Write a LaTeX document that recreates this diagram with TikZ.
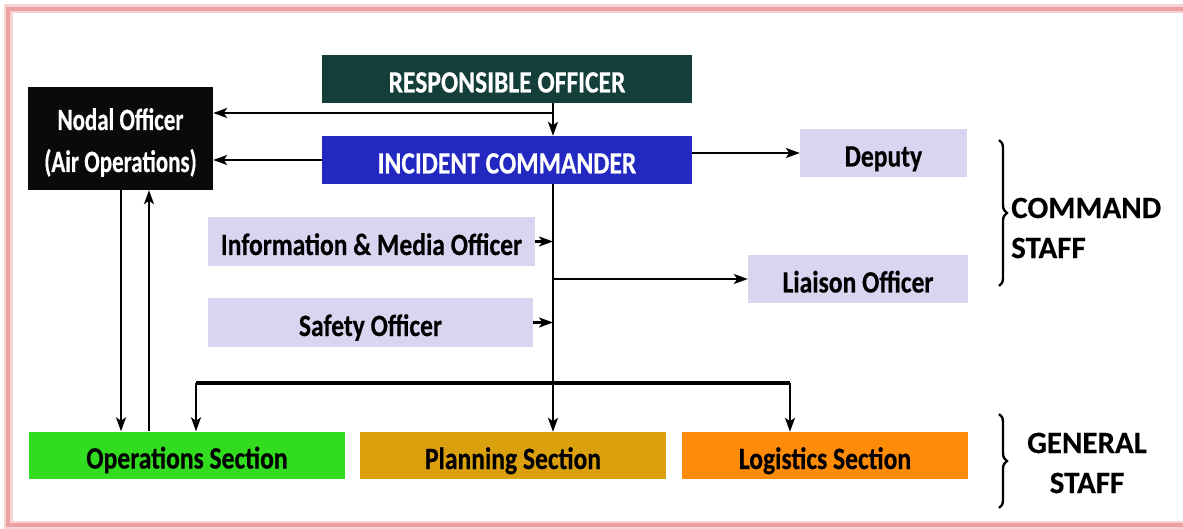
\documentclass[tikz,border=0pt]{standalone}
\usepackage{fontspec}
\usetikzlibrary{arrows.meta,decorations.pathreplacing}
\newfontfamily\boxfont[FakeStretch=0.825,FakeBold=0.4]{Carlito}
\newfontfamily\nodalfont[FakeStretch=0.74,FakeBold=0.4]{Carlito}
\newfontfamily\sidefont[FakeBold=0.3]{Carlito}
\definecolor{roc}{RGB}{20,62,58}
\definecolor{icc}{RGB}{34,40,192}
\definecolor{lav}{RGB}{217,213,240}
\definecolor{opc}{RGB}{50,220,30}
\definecolor{plc}{RGB}{218,160,14}
\definecolor{lgc}{RGB}{255,140,8}
\definecolor{frm}{RGB}{236,160,162}
\definecolor{nearblack}{RGB}{10,10,10}
\begin{document}
\begin{tikzpicture}[x=1pt,y=-1pt,
  box/.style={draw=none, inner sep=0pt, minimum height=48pt,
    text height=27pt, text depth=0pt,
    font={\boxfont\bfseries\fontsize{31}{36}\selectfont}},
  lavbox/.style={box, fill=lav, text=black},
  conn/.style={line width=2.2pt, -{Stealth[length=14pt,width=10pt,inset=3.5pt]}},
  sidetext/.style={inner sep=0pt, font={\sidefont\bfseries\fontsize{31}{40}\selectfont}},
  bracestyle/.style={decorate, decoration={brace, amplitude=8pt}, line width=2.4pt}
]
\useasboundingbox (0,0) rectangle (1183,529);
% frame
\draw[line width=9pt, draw=frm!45] (8,9) rectangle (1205,525);
\draw[line width=4.5pt, draw=frm] (8,9) rectangle (1205,525);

% nodes
\node[box, fill=roc, text=white, minimum width=370pt] (ro) at (507,79) {RESPONSIBLE OFFICER};
\node[box, fill=icc, text=white, minimum width=370pt] (ic) at (507,160) {INCIDENT COMMANDER};
\node[box, fill=nearblack, text=white, minimum width=185pt, minimum height=103pt,
      text height=67pt, text depth=0pt,
      font={\nodalfont\bfseries\fontsize{31}{42}\selectfont}] (nodal) at (120.5,138.5)
      {\begin{tabular}[b]{@{}c@{}}Nodal Officer\\(Air Operations)\end{tabular}};
\node[lavbox, minimum width=167pt] (dep) at (883.5,153) {Deputy};
\node[lavbox, minimum width=327pt, minimum height=49pt] (info) at (371.5,241.5) {Information \& Media Officer};
\node[lavbox, minimum width=220pt] (liaison) at (858,279) {Liaison Officer};
\node[lavbox, minimum width=325pt, minimum height=49pt] (safe) at (370.5,322.5) {Safety Officer};
\node[box, fill=opc, text=black, minimum width=316pt, minimum height=47pt] (ops) at (187,455) {Operations Section};
\node[box, fill=plc, text=black, minimum width=306pt, minimum height=47pt] (plan) at (513,455.5) {Planning Section};
\node[box, fill=lgc, text=black, minimum width=286pt, minimum height=47pt] (log) at (825,455.5) {Logistics Section};

% helper coordinates
\coordinate (tx) at (553,0);
\coordinate (j1) at (553,113);
\coordinate (j2) at (553,279);
\coordinate (bl) at (196,383);
\coordinate (br) at (790,383);
\coordinate (n1) at (121,0);
\coordinate (n2) at (149,0);

% connectors
\draw[conn] (tx |- ro.south) -- (tx |- ic.north);
\draw[conn] (j1) -- (nodal.east |- j1);
\draw[conn] (ic.west) -- (nodal.east |- ic.west);
\draw[conn] (ic.east |- dep.west) -- (dep.west);
\draw[conn] (tx |- ic.south) -- (tx |- plan.north);
\draw[conn] (info.east) -- (tx |- info.east);
\draw[conn] (safe.east) -- (tx |- safe.east);
\draw[conn] (j2) -- (liaison.west);
\draw[line width=4pt] (bl) -- (br);
\draw[conn] (bl) -- (bl |- ops.north);
\draw[conn] (br) -- (br |- log.north);
\draw[conn] (n1 |- nodal.south) -- (n1 |- ops.north);
\draw[conn] (n2 |- ops.north) -- (n2 |- nodal.south);

% braces and side labels
\draw[bracestyle] (999,140) -- (999,286);
\draw[bracestyle] (999,414) -- (999,508);
\node[sidetext, anchor=west, align=left] (cmd) at (1011,228) {COMMAND\\STAFF};
\node[sidetext, align=center] (gen) at (1087,463) {GENERAL\\STAFF};
\end{tikzpicture}
\end{document}
